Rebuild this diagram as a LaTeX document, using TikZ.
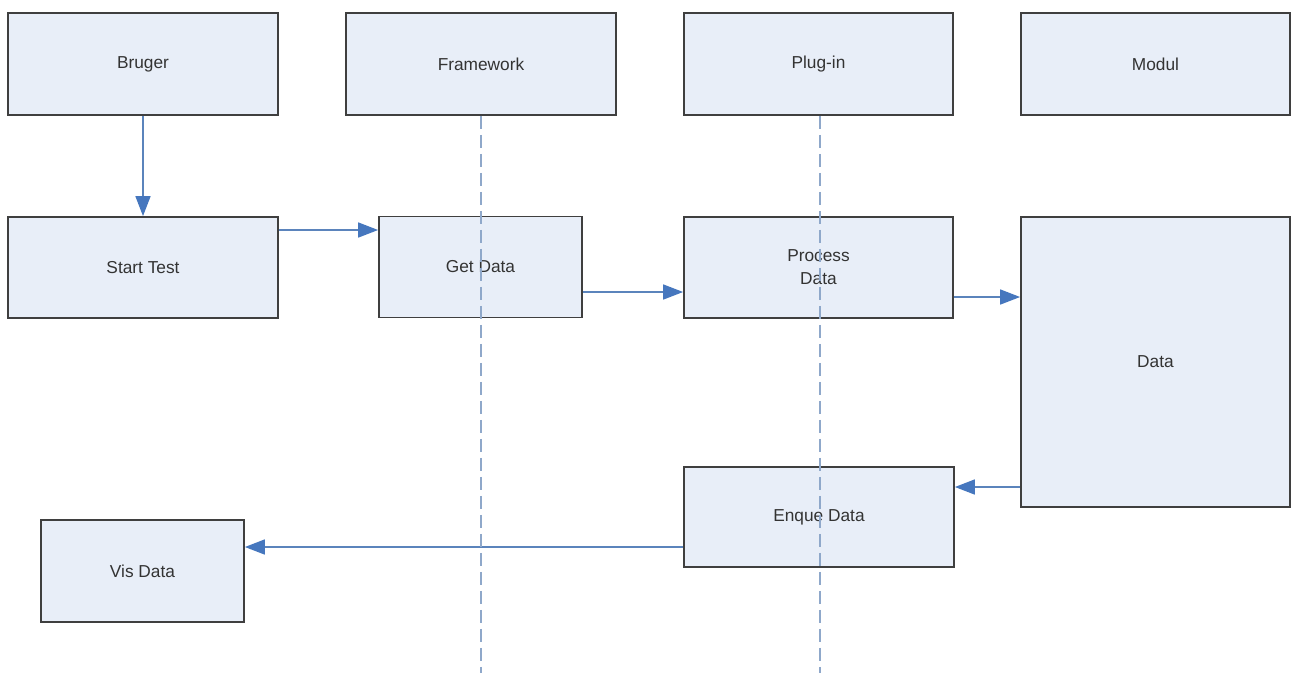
\documentclass[tikz,border=0pt]{standalone}
\usepackage{fontspec}
\setmainfont{Liberation Sans}
\usetikzlibrary{arrows.meta,calc}
\definecolor{boxfill}{HTML}{E8EEF8}
\definecolor{boxline}{HTML}{3F3F3F}
\definecolor{arrline}{HTML}{5B84BC}
\definecolor{arrhead}{HTML}{4677BE}
\definecolor{lifeline}{HTML}{8FA8CA}
\tikzset{
  box/.style={draw=boxline, line width=1.8pt, fill=boxfill, inner sep=0pt,
    font=\fontsize{17.3}{23}\selectfont, text=black!80, align=center},
  arr/.style={draw=arrline, line width=1.6pt,
    -{Triangle[length=20pt,width=15pt,fill=arrhead,color=arrhead]}},
  life/.style={draw=lifeline, line width=2pt, dash pattern=on 13pt off 6pt}
}
\begin{document}
\begin{tikzpicture}[x=1pt,y=-1pt]
\useasboundingbox (0,0) rectangle (1292,673);
\fill[white] (0,0) rectangle (1292,673);
% header boxes
\node[box, minimum width=270pt, minimum height=102pt] (bruger) at (143,64) {Bruger};
\node[box, minimum width=270pt, minimum height=102pt] (framework) at (481,64) {Framework};
\node[box, minimum width=269pt, minimum height=102pt] (plugin) at (818.5,64) {Plug-in};
\node[box, minimum width=269pt, minimum height=102pt] (modul) at (1155.5,64) {Modul};
% step boxes
\node[box, minimum width=270pt, minimum height=101pt] (start) at (143,267.5) {Start Test};
\node[box, minimum width=203pt, minimum height=101pt] (get) at (480.5,267) {Get Data};
\node[box, minimum width=269pt, minimum height=101pt] (proc) at (818.5,267.5) {Process\\Data};
\node[box, minimum width=269pt, minimum height=290pt] (data) at (1155.5,362) {Data};
\node[box, minimum width=270pt, minimum height=100pt] (enque) at (819,517) {Enque Data};
\node[box, minimum width=203pt, minimum height=102pt] (vis) at (142.5,571) {Vis Data};
% connectors
\draw[arr] (bruger.south) -- (start.north);
\draw[arr] (start.east |- 0,230) -- (get.west |- 0,230);
\draw[arr] (get.east |- 0,292) -- (proc.west |- 0,292);
\draw[arr] (proc.east |- 0,297) -- (data.west |- 0,297);
\draw[arr] (data.west |- 0,487) -- (enque.east |- 0,487);
\draw[arr] (enque.west |- 0,547) -- (vis.east |- 0,547);
% lifelines
\coordinate (fwend) at (481,673);
\coordinate (plend) at (819.5,673);
\draw[life] (framework.south) -- (fwend);
\draw[life] ($(plugin.south)+(1,0)$) -- (plend);
\end{tikzpicture}
\end{document}
